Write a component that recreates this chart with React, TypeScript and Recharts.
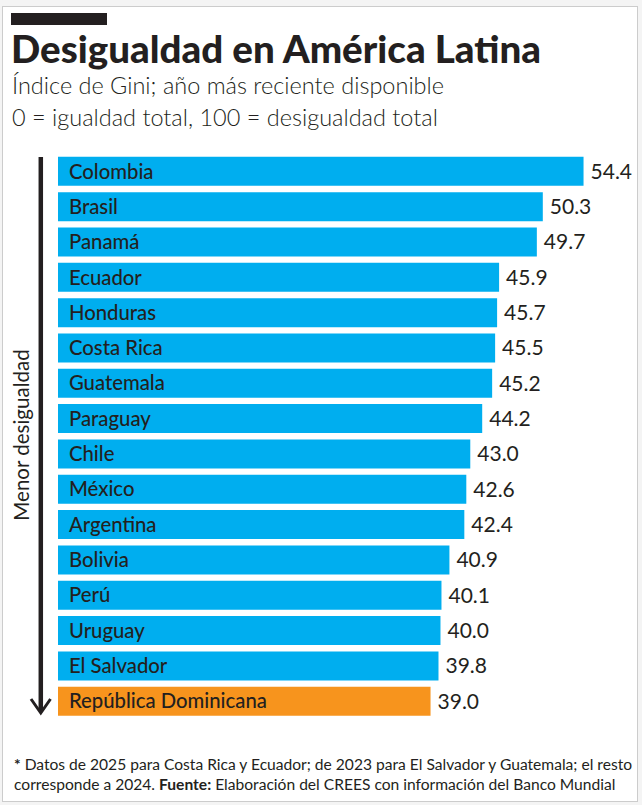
import React from 'react';
import { BarChart, Bar, XAxis, YAxis, Cell, LabelList } from 'recharts';

const paises = [
  'Colombia', 'Brasil', 'Panamá', 'Ecuador', 'Honduras', 'Costa Rica', 'Guatemala', 'Paraguay',
  'Chile', 'México', 'Argentina', 'Bolivia', 'Perú', 'Uruguay', 'El Salvador', 'República Dominicana',
];
const gini = [54.4, 50.3, 49.7, 45.9, 45.7, 45.5, 45.2, 44.2, 43.0, 42.6, 42.4, 40.9, 40.1, 40.0, 39.8, 39.0];
const destacado = 'República Dominicana';

const AZUL = '#00aeef';
const NARANJA = '#f7941d';
const TINTA = '#231f20';
const FONT = 'Lato, "Open Sans", sans-serif';

const data = paises.map((pais, i) => ({ pais, gini: gini[i] }));

export default function App() {
  return (
    <div style={{ position: 'absolute', left: 0, top: 0, width: 642, height: 805, background: '#f4f4f4', fontFamily: FONT, color: TINTA }}>
      <div style={{ position: 'absolute', left: 2, top: 6, width: 634, height: 794, background: '#fff', border: '1px solid #cccccc' }} />
      <div style={{ position: 'absolute', left: 11, top: 13, width: 96, height: 12, background: TINTA }} />
      <div style={{ position: 'absolute', left: 11, top: 25, fontSize: 38.5, fontWeight: 900, letterSpacing: 0, lineHeight: '46px', whiteSpace: 'nowrap' }}>
        Desigualdad en América Latina
      </div>
      <div style={{ position: 'absolute', left: 12, top: 69, fontSize: 23.5, fontWeight: 300, lineHeight: '32px', whiteSpace: 'nowrap' }}>
        Índice de Gini; año más reciente disponible
        <br />
        0 = igualdad total, 100 = desigualdad total
      </div>

      <svg style={{ position: 'absolute', left: 0, top: 0 }} width={642} height={805}>
        <line x1={40.8} y1={157} x2={40.8} y2={711} stroke={TINTA} strokeWidth={4.5} />
        <polyline points="31,699 40.8,713 50.5,699" fill="none" stroke={TINTA} strokeWidth={3} />
        <text x={21} y={435} transform="rotate(-90 21 435)" textAnchor="middle" dominantBaseline="central"
          fontFamily={FONT} fontSize={20.5} fill={TINTA}>
          Menor desigualdad
        </text>
      </svg>

      <div style={{ position: 'absolute', left: 0, top: 140 }}>
        <BarChart width={642} height={600} data={data} layout="vertical"
          margin={{ top: 13.8, right: 52.5, bottom: 20.9, left: 58 }}>
          <XAxis type="number" domain={[1.5, 55]} hide allowDataOverflow />
          <YAxis type="category" dataKey="pais" hide />
          <Bar dataKey="gini" barSize={29} isAnimationActive={false}>
            {data.map((d) => (
              <Cell key={d.pais} fill={d.pais === destacado ? NARANJA : AZUL} />
            ))}
            <LabelList dataKey="pais" position="insideLeft" offset={11} fill={TINTA}
              fontSize={20.3} fontWeight={500} fontFamily={FONT} />
            <LabelList dataKey="gini" position="right" offset={7} fill={TINTA}
              fontSize={21} fontFamily={FONT} formatter={(v: number) => v.toFixed(1)} />
          </Bar>
        </BarChart>
      </div>

      <div style={{ position: 'absolute', left: 14, top: 754, fontSize: 15.6, lineHeight: '20px', whiteSpace: 'nowrap' }}>
        <b>*</b> Datos de 2025 para Costa Rica y Ecuador; de 2023 para El Salvador y Guatemala; el resto
        <br />
        corresponde a 2024. <b>Fuente:</b> Elaboración del CREES con información del Banco Mundial
      </div>
    </div>
  );
}
